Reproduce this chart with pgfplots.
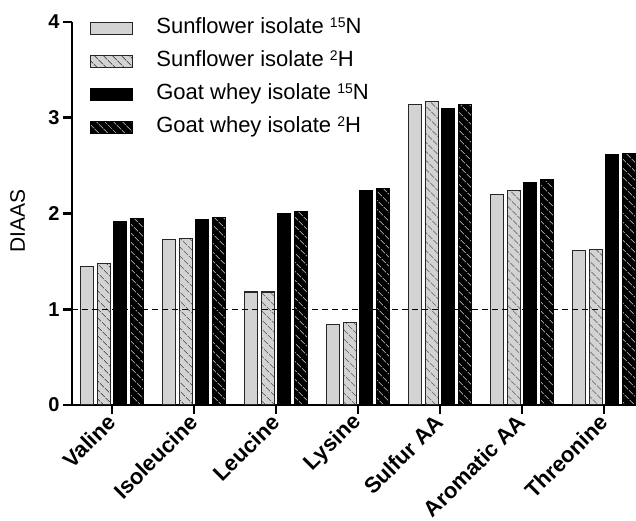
\documentclass[border=0pt]{standalone}
\usepackage{fontspec}
\setmainfont{Liberation Sans}
\usepackage{pgfplots}
\pgfplotsset{compat=1.18}
\usetikzlibrary{patterns.meta}

\definecolor{lightbar}{RGB}{211,211,211}
\definecolor{hatchdark}{RGB}{85,85,85}
\definecolor{hatchlight}{RGB}{150,150,150}

\pgfplotsset{
  barA/.style={fill=lightbar, draw=black!85, line width=1.1pt},
  barB/.style={preaction={fill=lightbar},
    pattern={Lines[angle=-45,distance=6.5pt,line width=1.1pt]},
    pattern color=hatchdark, draw=black!85, line width=1.1pt},
  barC/.style={fill=black, draw=black, line width=1.1pt},
  barD/.style={preaction={fill=black},
    pattern={Lines[angle=-45,distance=6.5pt,line width=1.1pt]},
    pattern color=hatchlight, draw=black, line width=1.1pt},
}
% small superscript for isotope labels
\newcommand{\iso}[1]{\raisebox{0.27em}{\fontsize{14}{14}\selectfont #1}}

\begin{document}
\begin{tikzpicture}
\begin{axis}[
    at={(0,0)}, anchor=south west,
    scale only axis,
    width=564pt, height=383pt,
    ybar=3.5pt, bar width=13pt,
    xmin=-0.488, xmax=6.39,
    ymin=0, ymax=4,
    axis x line*=bottom, axis y line*=left,
    axis line style={line width=2.6pt, -},
    xtick={0,...,6},
    xticklabels={Valine, Isoleucine, Leucine, Lysine, Sulfur AA, Aromatic AA, Threonine},
    ytick={0,1,2,3,4},
    tick align=outside,
    major tick length=9pt,
    tick style={line width=2.6pt, black},
    /pgf/number format/assume math mode=true,
    yticklabel style={font=\bfseries\fontsize{20}{20}\selectfont},
    xticklabel style={font=\bfseries\fontsize{22}{22}\selectfont,
        rotate=45, anchor=east, yshift=-3pt},
    ylabel={DIAAS},
    every axis y label/.style={at={(axis description cs:-0.077,0.48)},
        rotate=90, anchor=south, font=\fontsize{21}{21}\selectfont},
    every axis plot post/.append style={
        legend image code/.code={\draw[##1] (0pt,-6pt) rectangle (42pt,6pt);}},
    legend style={at={(axis description cs:0.032,1.012)}, anchor=north west,
        draw=none, fill=none, inner sep=0pt,
        font=\fontsize{22}{26}\selectfont,
        nodes={inner sep=0pt, text height=16pt, text depth=5pt},
        row sep=12pt,
        /tikz/every odd column/.append style={column sep=23pt}},
    legend cell align=left,
]
\addplot[barA] coordinates {(0,1.45) (1,1.73) (2,1.18) (3,0.84) (4,3.14) (5,2.20) (6,1.61)};
\addlegendentry{Sunflower isolate \iso{15}N}
\addplot[barB] coordinates {(0,1.48) (1,1.74) (2,1.18) (3,0.86) (4,3.17) (5,2.24) (6,1.62)};
\addlegendentry{Sunflower isolate \iso{2}H}
\addplot[barC] coordinates {(0,1.92) (1,1.94) (2,2.00) (3,2.24) (4,3.10) (5,2.32) (6,2.62)};
\addlegendentry{Goat whey isolate \iso{15}N}
\addplot[barD] coordinates {(0,1.95) (1,1.96) (2,2.02) (3,2.26) (4,3.14) (5,2.35) (6,2.63)};
\addlegendentry{Goat whey isolate \iso{2}H}
\draw[black, line width=1.3pt, dash pattern=on 6pt off 4pt]
    (axis cs:-0.488,1) -- (axis cs:6.39,1);
\end{axis}
\pgfresetboundingbox
\useasboundingbox (-72pt,-116pt) rectangle (564pt,405pt);
\end{tikzpicture}
\end{document}
